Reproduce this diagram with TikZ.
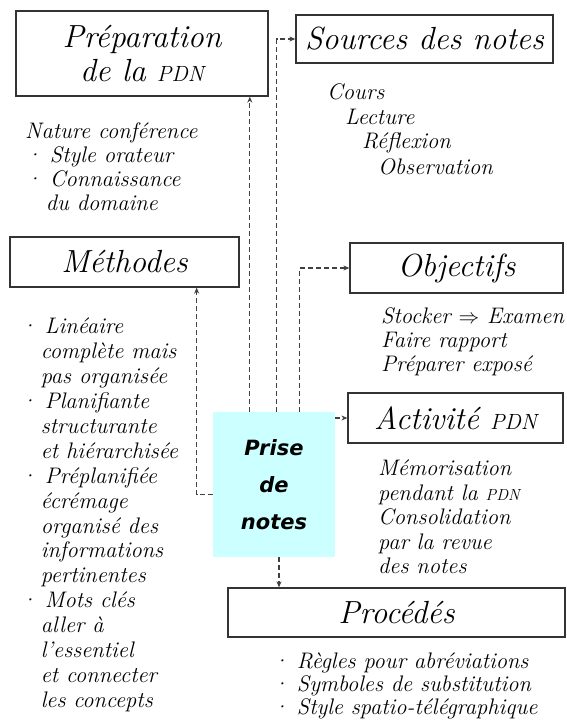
\documentclass[tikz,border=0pt]{standalone}
\usepackage{fontspec}
\newfontfamily\prisefont{DejaVu Sans}
\usetikzlibrary{positioning, arrows.meta, calc}

\definecolor{prisecyan}{RGB}{204,255,255}
\newcommand{\pdn}[1]{{\fontsize{#1}{#1}\selectfont PDN}}
\newcommand{\ind}{\phantom{·\,}}

\begin{document}
\begin{tikzpicture}[x=1pt, y=-1pt,
    % Stili per i riquadri
    box/.style={rectangle, draw=black!80, line width=1.3pt, inner sep=0pt, align=center, font=\fontsize{32}{34}\selectfont\itshape},
    prisebox/.style={rectangle, fill=prisecyan, inner sep=0pt, align=center, font=\prisefont\bfseries\itshape\fontsize{21}{37}\selectfont},
    % Stili per il testo
    notes/.style={anchor=north west, inner sep=0pt, align=left, font=\fontsize{22.5}{24}\selectfont\itshape},
    % Stili per le connessioni
    link/.style={-{Stealth[length=6pt, width=5pt]}, line width=1.2pt, draw=black!75, dash pattern=on 5pt off 3pt}
]
\useasboundingbox (0,0) rectangle (566,722);

% === RIQUADRI ===
\node[box, minimum width=252pt, minimum height=85pt] (prep) at (142,53.5) {Préparation\\de la \pdn{22}};
\node[box, minimum width=257pt, minimum height=48pt] (sources) at (424.5,39) {Sources des notes};
\node[box, minimum width=229pt, minimum height=50pt] (methodes) at (124.5,262) {Méthodes};
\node[box, minimum width=213pt, minimum height=50pt] (objectifs) at (456.5,268) {Objectifs};
\node[box, minimum width=215pt, minimum height=50pt] (activite) at (455.5,418) {Activité \pdn{22}};
\node[box, minimum width=337pt, minimum height=49pt] (procedes) at (396.5,612.5) {Procédés};
\node[prisebox, minimum width=122pt, minimum height=145pt] (prise) at (274,484.5) {Prise\\de\\notes};

% === TESTI ===
\node[notes] (nature) at (25,122) {Nature conférence\\· Style orateur\\· Connaissance\\\ind du domaine};
\node[notes] (cours) at (327,83) {Cours};
\node[notes] (lecture) at (345,109) {Lecture};
\node[notes] (reflexion) at (362,132) {Réflexion};
\node[notes] (observation) at (378,158) {Observation};
\node[notes, font=\fontsize{22.5}{24.9}\selectfont\itshape] (listemeth) at (20,318) {· Linéaire\\\ind complète mais\\\ind pas organisée\\· Planifiante\\\ind structurante\\\ind et hiérarchisée\\· Préplanifiée\\\ind écrémage\\\ind organisé des\\\ind informations\\\ind pertinentes\\· Mots clés\\\ind aller à\\\ind l'essentiel\\\ind et connecter\\\ind les concepts};
\node[notes] (listeobj) at (381,307) {Stocker $\Rightarrow$ Examen\\Faire rapport\\Préparer exposé};
\node[notes, font=\fontsize{22.5}{24.5}\selectfont\itshape] (listeact) at (378,460) {Mémorisation\\pendant la \pdn{16}\\Consolidation\\par la revue\\des notes};
\node[notes, font=\fontsize{22.5}{23}\selectfont\itshape] (listeproc) at (272,653) {· Règles pour abréviations\\· Symboles de substitution\\· Style spatio-télégraphique};

% === CONNESSIONI ===
\coordinate (pA) at ([xshift=37pt]prise.north west);
\coordinate (pB) at ([xshift=64pt]prise.north west);
\coordinate (pC) at ([xshift=87pt]prise.north west);
\coordinate (pE) at ([yshift=-10pt]prise.west);
\coordinate (mE) at ([xshift=-43pt]methodes.south east);
\coordinate (pF) at ([xshift=5pt]prise.south);

\draw[link] (pA) -- (pA |- prep.south);
\draw[link] (pB) |- (sources.west);
\draw[link] (pC) |- (objectifs.west);
\draw[link] (prise.east |- activite.west) -- (activite.west);
\draw[link] (pE) -| (mE);
\draw[link] (pF) -- (pF |- procedes.north);

\end{tikzpicture}
\end{document}
